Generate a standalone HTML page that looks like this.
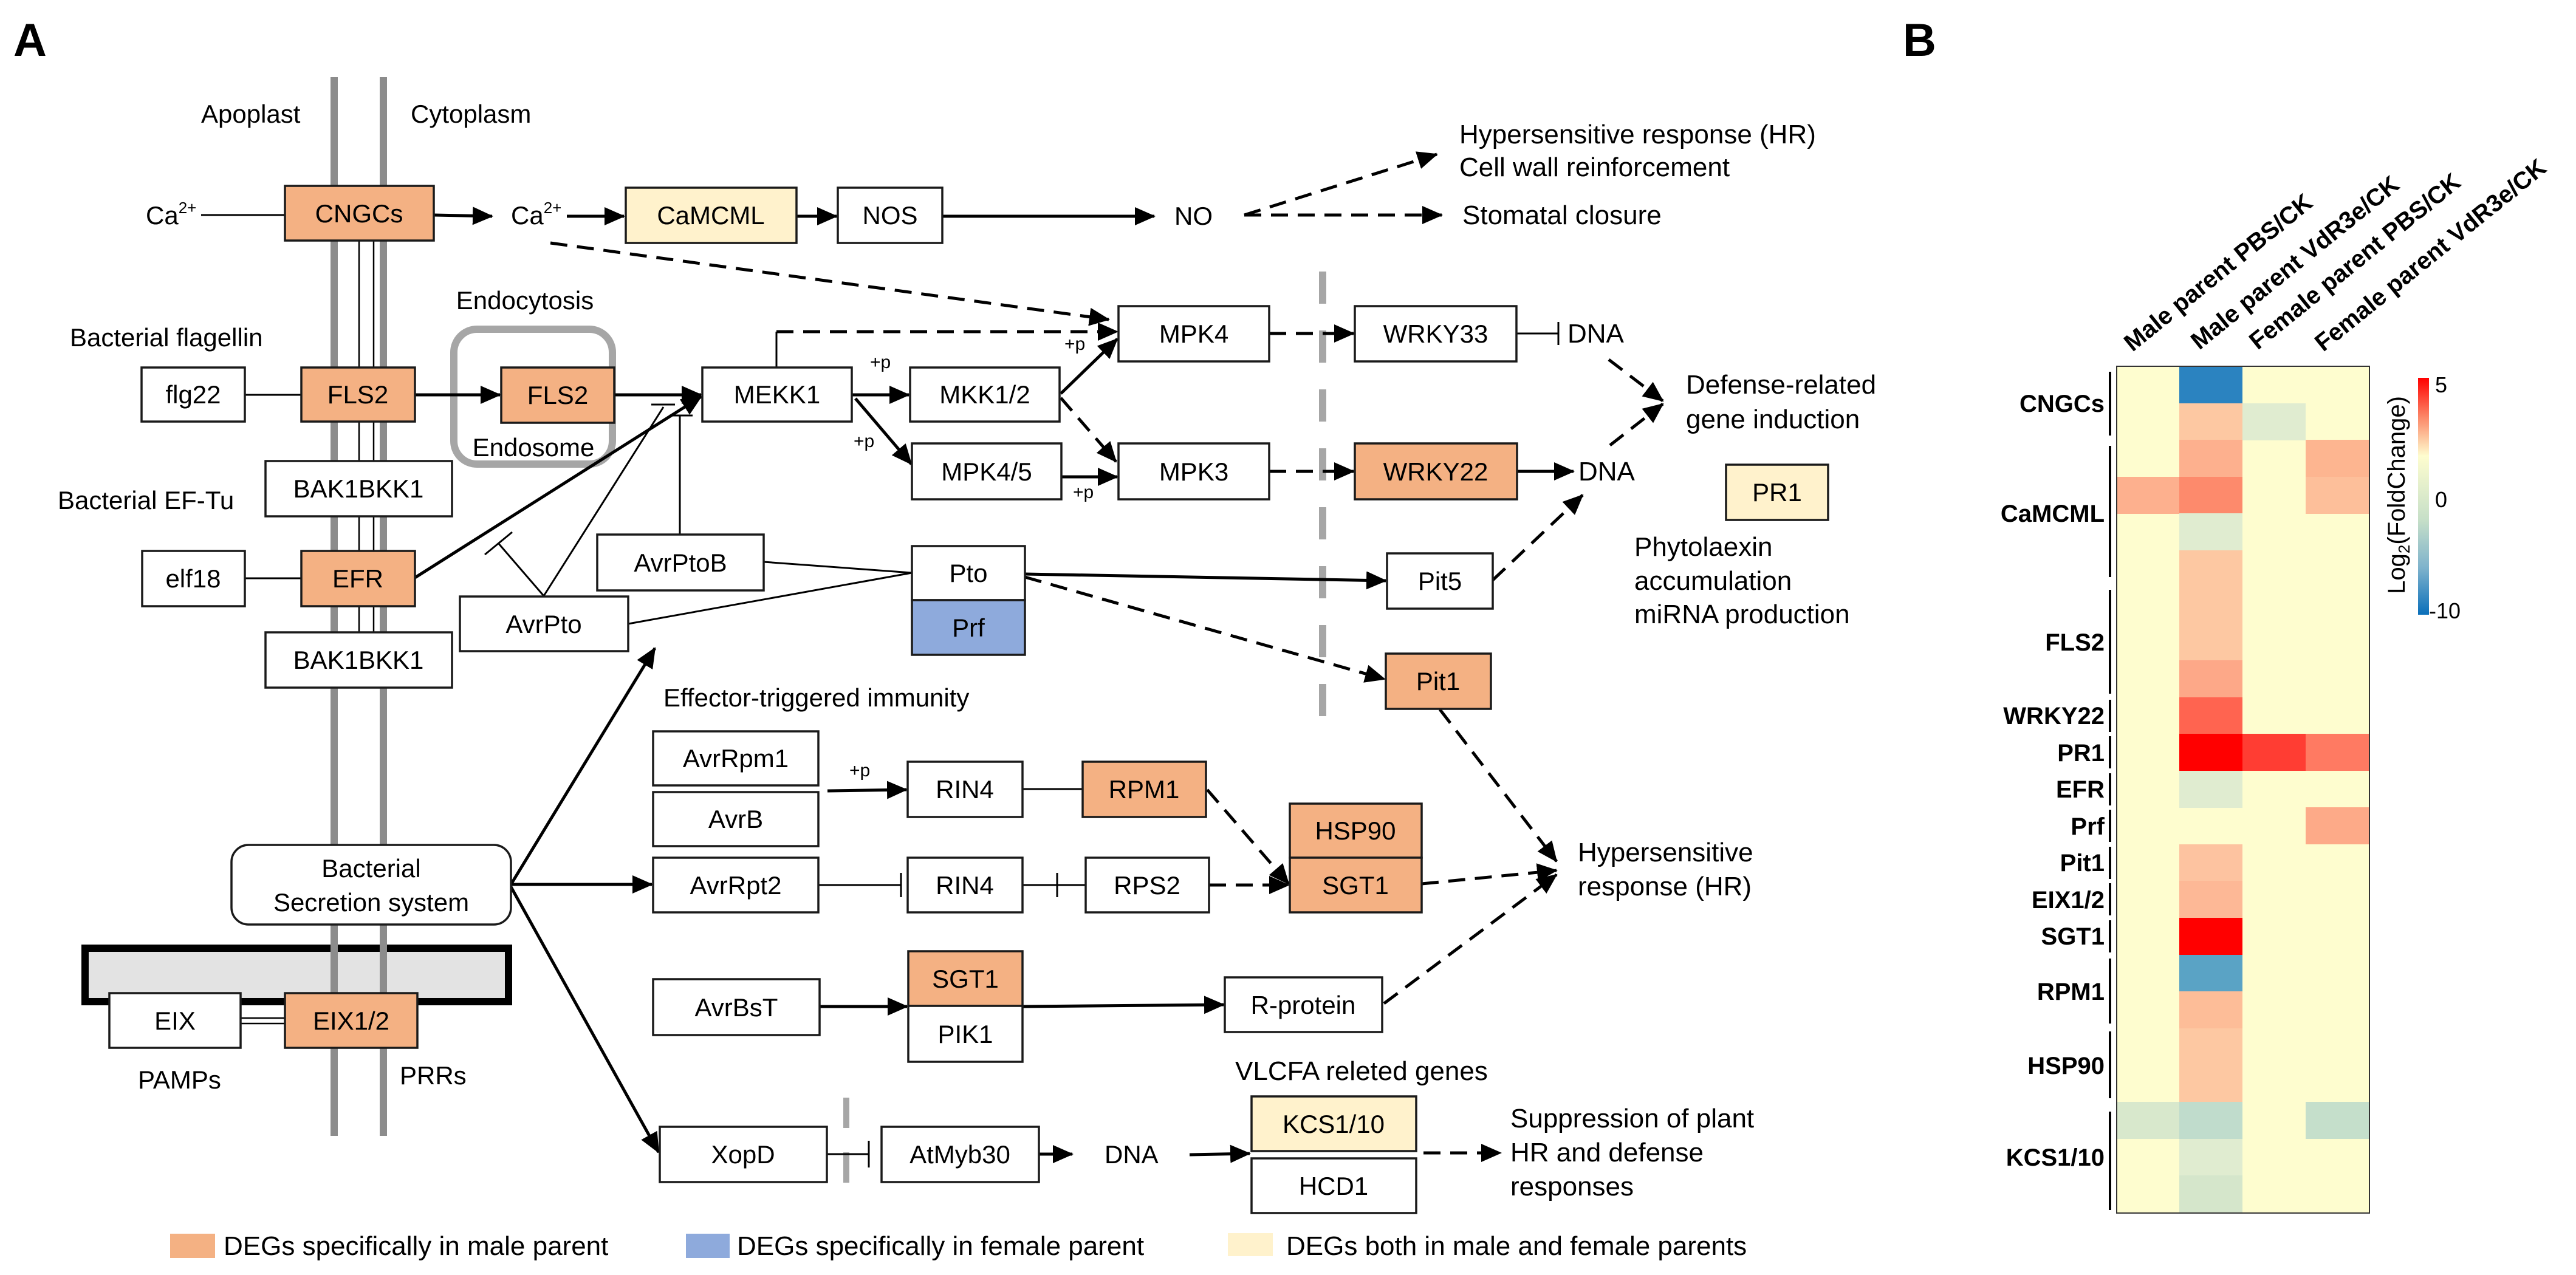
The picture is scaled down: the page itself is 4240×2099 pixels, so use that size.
<!DOCTYPE html>
<html><head><meta charset="utf-8"><style>
html,body{margin:0;padding:0;background:#fff;}
svg{display:block;}
text{font-family:"Liberation Sans",Arial,sans-serif;fill:#000;}
</style></head><body>
<svg width="4240" height="2099" viewBox="0 0 4240 2099" xmlns="http://www.w3.org/2000/svg">
<defs>
<marker id="ah" markerUnits="userSpaceOnUse" markerWidth="34" markerHeight="30" refX="32" refY="15" orient="auto"><path d="M0,0 L34,15 L0,30 z" fill="#000"/></marker>
<linearGradient id="cb" x1="0" y1="0" x2="0" y2="1">
<stop offset="0" stop-color="#ff0000"/><stop offset="0.17" stop-color="#fc8a6a"/><stop offset="0.33" stop-color="#fefdcf"/><stop offset="0.6" stop-color="#c6dfc8"/><stop offset="0.8" stop-color="#7fb3cc"/><stop offset="1" stop-color="#0a6fba"/>
</linearGradient>
</defs>

<text x="22" y="92" font-size="76" font-weight="bold">A</text>
<text x="3132" y="92" font-size="76" font-weight="bold">B</text>

<rect x="140" y="1561" width="697" height="88" fill="#e3e3e3" stroke="#000" stroke-width="12"/>

<line x1="550" y1="127" x2="550" y2="1870" stroke="#8c8c8c" stroke-width="12"/>
<line x1="631" y1="127" x2="631" y2="1870" stroke="#8c8c8c" stroke-width="12"/>
<g stroke="#000" stroke-width="2.5">
<line x1="591" y1="396" x2="591" y2="605"/><line x1="615" y1="396" x2="615" y2="605"/>
<line x1="591" y1="694" x2="591" y2="907"/><line x1="615" y1="694" x2="615" y2="907"/>
<line x1="591" y1="998" x2="591" y2="1041"/><line x1="615" y1="998" x2="615" y2="1041"/>
<line x1="396" y1="1676" x2="469" y2="1676"/><line x1="396" y1="1685" x2="469" y2="1685"/>
</g>

<text x="331" y="202" font-size="42">Apoplast</text>
<text x="676" y="202" font-size="42">Cytoplasm</text>

<rect x="747" y="542" width="261" height="222" rx="38" fill="none" stroke="#a6a6a6" stroke-width="12"/>
<text x="864" y="509" font-size="42" text-anchor="middle">Endocytosis</text>
<text x="878" y="751" font-size="42" text-anchor="middle">Endosome</text>

<line x1="2177" y1="447" x2="2177" y2="1190" stroke="#a6a6a6" stroke-width="12" stroke-dasharray="53 44"/>
<line x1="1393" y1="1807" x2="1393" y2="1962" stroke="#a6a6a6" stroke-width="10" stroke-dasharray="50 40"/>

<g stroke="#000" stroke-width="3" fill="none">
<line x1="331" y1="354" x2="469" y2="354"/>
<line x1="403" y1="650" x2="496" y2="650"/>
<line x1="403" y1="952" x2="496" y2="952"/>
<line x1="1257" y1="925" x2="1501" y2="943"/>
<line x1="1034" y1="1027" x2="1501" y2="943"/>
<line x1="1683" y1="1299" x2="1782" y2="1299"/>
<line x1="895" y1="981" x2="820" y2="894"/><line x1="798" y1="913" x2="843" y2="876"/>
<line x1="895" y1="981" x2="1092" y2="670"/><line x1="1072" y1="666" x2="1111" y2="666"/>
<line x1="1119" y1="880" x2="1119" y2="684"/><line x1="1102" y1="684" x2="1140" y2="684"/>
<line x1="1278" y1="605" x2="1278" y2="546"/>
<line x1="2496" y1="549" x2="2565" y2="549"/><line x1="2565" y1="530" x2="2565" y2="568"/>
<line x1="1347" y1="1457" x2="1483" y2="1457"/><line x1="1483" y1="1437" x2="1483" y2="1477"/>
<line x1="1683" y1="1457" x2="1787" y2="1457"/><line x1="1740" y1="1437" x2="1740" y2="1477"/>
<line x1="1361" y1="1900" x2="1430" y2="1900"/><line x1="1430" y1="1878" x2="1430" y2="1922"/>
</g>

<g stroke="#000" stroke-width="5" fill="none" marker-end="url(#ah)">
<line x1="714" y1="354" x2="810" y2="356"/>
<line x1="933" y1="356" x2="1027" y2="356"/>
<line x1="1311" y1="356" x2="1377" y2="356"/>
<line x1="1551" y1="356" x2="1900" y2="356"/>
<line x1="683" y1="650" x2="823" y2="650"/>
<line x1="1011" y1="650" x2="1154" y2="650"/>
<line x1="683" y1="951" x2="1154" y2="653"/>
<line x1="1402" y1="650" x2="1496" y2="650"/>
<line x1="1408" y1="656" x2="1500" y2="764"/>
<line x1="1746" y1="648" x2="1839" y2="558"/>
<line x1="1747" y1="785" x2="1839" y2="785"/>
<line x1="2497" y1="776" x2="2590" y2="776"/>
<line x1="1687" y1="945" x2="2281" y2="956"/>
<line x1="841" y1="1456" x2="1078" y2="1067"/>
<line x1="841" y1="1456" x2="1073" y2="1456"/>
<line x1="841" y1="1460" x2="1084" y2="1897"/>
<line x1="1362" y1="1302" x2="1492" y2="1300"/>
<line x1="1349" y1="1657" x2="1493" y2="1657"/>
<line x1="1683" y1="1657" x2="2014" y2="1654"/>
<line x1="1710" y1="1900" x2="1765" y2="1900"/>
<line x1="1958" y1="1901" x2="2057" y2="1899"/>
</g>
<g stroke="#000" stroke-width="5" fill="none" stroke-dasharray="28 16" marker-end="url(#ah)">
<line x1="2048" y1="354" x2="2365" y2="254"/>
<line x1="2048" y1="354" x2="2373" y2="354"/>
<line x1="906" y1="400" x2="1825" y2="526"/>
<polyline points="1278,546 1839,546"/>
<line x1="1746" y1="655" x2="1837" y2="760"/>
<line x1="2089" y1="549" x2="2228" y2="549"/>
<line x1="2089" y1="776" x2="2228" y2="776"/>
<line x1="2648" y1="592" x2="2737" y2="660"/>
<line x1="2650" y1="733" x2="2737" y2="665"/>
<line x1="2457" y1="955" x2="2605" y2="815"/>
<line x1="1687" y1="950" x2="2279" y2="1118"/>
<line x1="2370" y1="1168" x2="2562" y2="1418"/>
<line x1="2340" y1="1455" x2="2562" y2="1433"/>
<line x1="2278" y1="1652" x2="2562" y2="1440"/>
<line x1="1987" y1="1300" x2="2121" y2="1455"/>
<line x1="1990" y1="1457" x2="2121" y2="1457"/>
<line x1="2343" y1="1898" x2="2470" y2="1898"/>
</g>

<g stroke="#1a1a1a" stroke-width="3.5">
<rect x="469" y="306" width="245" height="90" fill="#f4b183"/>
<rect x="1030" y="309" width="281" height="91" fill="#fff2cc"/>
<rect x="1379" y="309" width="172" height="91" fill="#fff"/>
<rect x="233" y="605" width="170" height="89" fill="#fff"/>
<rect x="496" y="605" width="187" height="89" fill="#f4b183"/>
<rect x="825" y="605" width="186" height="91" fill="#f4b183"/>
<rect x="1156" y="605" width="246" height="89" fill="#fff"/>
<rect x="1498" y="605" width="246" height="89" fill="#fff"/>
<rect x="1841" y="504" width="248" height="91" fill="#fff"/>
<rect x="1501" y="730" width="246" height="92" fill="#fff"/>
<rect x="1841" y="730" width="248" height="92" fill="#fff"/>
<rect x="2230" y="504" width="266" height="91" fill="#fff"/>
<rect x="2230" y="730" width="267" height="92" fill="#f4b183"/>
<rect x="2841" y="765" width="168" height="91" fill="#fff2cc"/>
<rect x="437" y="759" width="307" height="91" fill="#fff"/>
<rect x="234" y="907" width="169" height="91" fill="#fff"/>
<rect x="496" y="907" width="187" height="91" fill="#f4b183"/>
<rect x="983" y="880" width="274" height="92" fill="#fff"/>
<rect x="1501" y="899" width="186" height="89" fill="#fff"/>
<rect x="1501" y="988" width="186" height="90" fill="#8eaadc"/>
<rect x="757" y="982" width="277" height="90" fill="#fff"/>
<rect x="437" y="1041" width="307" height="91" fill="#fff"/>
<rect x="2283" y="911" width="174" height="91" fill="#fff"/>
<rect x="2281" y="1076" width="173" height="91" fill="#f4b183"/>
<rect x="1075" y="1204" width="272" height="89" fill="#fff"/>
<rect x="1075" y="1304" width="272" height="89" fill="#fff"/>
<rect x="1494" y="1254" width="189" height="91" fill="#fff"/>
<rect x="1782" y="1254" width="203" height="91" fill="#f4b183"/>
<rect x="1075" y="1412" width="272" height="90" fill="#fff"/>
<rect x="1494" y="1412" width="189" height="90" fill="#fff"/>
<rect x="1787" y="1412" width="203" height="90" fill="#fff"/>
<rect x="2123" y="1323" width="217" height="89" fill="#f4b183"/>
<rect x="2123" y="1412" width="217" height="90" fill="#f4b183"/>
<rect x="381" y="1391" width="460" height="131" rx="28" fill="#fff"/>
<rect x="180" y="1635" width="216" height="90" fill="#fff"/>
<rect x="469" y="1635" width="218" height="90" fill="#f4b183"/>
<rect x="1075" y="1612" width="274" height="92" fill="#fff"/>
<rect x="1495" y="1566" width="188" height="90" fill="#f4b183"/>
<rect x="1495" y="1656" width="188" height="92" fill="#fff"/>
<rect x="2016" y="1609" width="259" height="90" fill="#fff"/>
<rect x="1086" y="1855" width="275" height="91" fill="#fff"/>
<rect x="1451" y="1855" width="259" height="91" fill="#fff"/>
<rect x="2060" y="1805" width="271" height="90" fill="#fff2cc"/>
<rect x="2060" y="1907" width="271" height="90" fill="#fff"/>
</g>

<g font-size="42" text-anchor="middle">
<text x="591" y="366">CNGCs</text>
<text x="1170" y="369">CaMCML</text>
<text x="1465" y="369">NOS</text>
<text x="318" y="664">flg22</text>
<text x="589" y="664">FLS2</text>
<text x="918" y="665">FLS2</text>
<text x="1279" y="664">MEKK1</text>
<text x="1621" y="664">MKK1/2</text>
<text x="1965" y="564">MPK4</text>
<text x="1624" y="791">MPK4/5</text>
<text x="1965" y="791">MPK3</text>
<text x="2363" y="564">WRKY33</text>
<text x="2363" y="791">WRKY22</text>
<text x="2925" y="825">PR1</text>
<text x="590" y="819">BAK1BKK1</text>
<text x="318" y="967">elf18</text>
<text x="589" y="967">EFR</text>
<text x="1120" y="941">AvrPtoB</text>
<text x="1594" y="958">Pto</text>
<text x="1594" y="1048">Prf</text>
<text x="895" y="1042">AvrPto</text>
<text x="590" y="1101">BAK1BKK1</text>
<text x="2370" y="971">Pit5</text>
<text x="2367" y="1136">Pit1</text>
<text x="1211" y="1263">AvrRpm1</text>
<text x="1211" y="1363">AvrB</text>
<text x="1588" y="1314">RIN4</text>
<text x="1883" y="1314">RPM1</text>
<text x="1211" y="1472">AvrRpt2</text>
<text x="1588" y="1472">RIN4</text>
<text x="1888" y="1472">RPS2</text>
<text x="2231" y="1382">HSP90</text>
<text x="2231" y="1472">SGT1</text>
<text x="611" y="1444">Bacterial</text>
<text x="611" y="1500">Secretion system</text>
<text x="288" y="1695">EIX</text>
<text x="578" y="1695">EIX1/2</text>
<text x="1212" y="1673">AvrBsT</text>
<text x="1589" y="1626">SGT1</text>
<text x="1589" y="1717">PIK1</text>
<text x="2145" y="1669">R-protein</text>
<text x="1223" y="1915">XopD</text>
<text x="1580" y="1915">AtMyb30</text>
<text x="2195" y="1865">KCS1/10</text>
<text x="2195" y="1967">HCD1</text>
</g>

<g font-size="42">
<text x="240" y="369">Ca<tspan font-size="26" dy="-18">2+</tspan></text>
<text x="841" y="369">Ca<tspan font-size="26" dy="-18">2+</tspan></text>
<text x="1933" y="370">NO</text>
<text x="115" y="570">Bacterial flagellin</text>
<text x="95" y="838">Bacterial EF-Tu</text>
<text x="1092" y="1163">Effector-triggered immunity</text>
<text x="227" y="1792">PAMPs</text>
<text x="658" y="1785">PRRs</text>
<text x="1818" y="1915">DNA</text>
</g>
<g font-size="30">
<text x="1432" y="606">+p</text>
<text x="1405" y="736">+p</text>
<text x="1752" y="576">+p</text>
<text x="1766" y="820">+p</text>
<text x="1398" y="1278">+p</text>
</g>
<g font-size="44">
<text x="2402" y="236">Hypersensitive response (HR)</text>
<text x="2402" y="290">Cell wall reinforcement</text>
<text x="2407" y="369">Stomatal closure</text>
<text x="2580" y="564">DNA</text>
<text x="2598" y="791">DNA</text>
<text x="2775" y="648">Defense-related</text>
<text x="2775" y="705">gene induction</text>
<text x="2690" y="915">Phytolaexin</text>
<text x="2690" y="971">accumulation</text>
<text x="2690" y="1026">miRNA production</text>
<text x="2597" y="1418">Hypersensitive</text>
<text x="2597" y="1474">response (HR)</text>
<text x="2033" y="1778">VLCFA releted genes</text>
<text x="2486" y="1856">Suppression of plant</text>
<text x="2486" y="1912">HR and defense</text>
<text x="2486" y="1968">responses</text>
</g>

<rect x="280" y="2031" width="74" height="40" fill="#f4b183"/>
<rect x="1129" y="2031" width="72" height="40" fill="#8eaadc"/>
<rect x="2021" y="2030" width="74" height="38" fill="#fff2cc"/>
<g font-size="44">
<text x="368" y="2066">DEGs specifically in male parent</text>
<text x="1213" y="2066">DEGs specifically in female parent</text>
<text x="2117" y="2066">DEGs both in male and female parents</text>
</g>

<g>
<rect x="3484" y="603" width="416" height="1394" fill="#fefdcf"/>
<rect x="3587" y="603" width="104" height="61" fill="#2b83c0"/>
<rect x="3587" y="664" width="104" height="61" fill="#fdc8a2"/>
<rect x="3691" y="664" width="104" height="61" fill="#e0ecd0"/>
<rect x="3587" y="724" width="104" height="61" fill="#fdb08e"/>
<rect x="3795" y="724" width="105" height="61" fill="#fdb590"/>
<rect x="3484" y="785" width="103" height="61" fill="#fdb08e"/>
<rect x="3587" y="785" width="104" height="61" fill="#fd8a6c"/>
<rect x="3795" y="785" width="105" height="61" fill="#fdbf9a"/>
<rect x="3587" y="845" width="104" height="61" fill="#e0ecd0"/>
<rect x="3587" y="906" width="104" height="182" fill="#fdc8a2"/>
<rect x="3587" y="1087" width="104" height="61" fill="#fda888"/>
<rect x="3587" y="1148" width="104" height="61" fill="#ff6450"/>
<rect x="3587" y="1208" width="104" height="61" fill="#ff0000"/>
<rect x="3691" y="1208" width="104" height="61" fill="#ff3d33"/>
<rect x="3795" y="1208" width="105" height="61" fill="#ff7a62"/>
<rect x="3587" y="1269" width="104" height="61" fill="#e0ecd0"/>
<rect x="3795" y="1329" width="105" height="61" fill="#fdaa88"/>
<rect x="3587" y="1390" width="104" height="61" fill="#fdc3a0"/>
<rect x="3587" y="1450" width="104" height="61" fill="#fdb896"/>
<rect x="3587" y="1511" width="104" height="61" fill="#ff0000"/>
<rect x="3587" y="1572" width="104" height="61" fill="#5aa3c5"/>
<rect x="3587" y="1632" width="104" height="61" fill="#fdbd98"/>
<rect x="3587" y="1693" width="104" height="122" fill="#fdc8a2"/>
<rect x="3484" y="1814" width="103" height="61" fill="#d8e8cc"/>
<rect x="3587" y="1814" width="104" height="61" fill="#c0dccc"/>
<rect x="3795" y="1814" width="105" height="61" fill="#c5dfcb"/>
<rect x="3587" y="1875" width="104" height="61" fill="#e0ecd0"/>
<rect x="3587" y="1935" width="104" height="62" fill="#d5e6cb"/>
<rect x="3484" y="603" width="416" height="1394" fill="none" stroke="#333" stroke-width="2"/>
</g>
<g stroke="#000" stroke-width="4">
<line x1="3473" y1="612" x2="3473" y2="717"/>
<line x1="3473" y1="734" x2="3473" y2="950"/>
<line x1="3473" y1="971" x2="3473" y2="1142"/>
<line x1="3473" y1="1152" x2="3473" y2="1205"/>
<line x1="3473" y1="1212" x2="3473" y2="1265"/>
<line x1="3473" y1="1273" x2="3473" y2="1326"/>
<line x1="3473" y1="1333" x2="3473" y2="1386"/>
<line x1="3473" y1="1394" x2="3473" y2="1447"/>
<line x1="3473" y1="1454" x2="3473" y2="1507"/>
<line x1="3473" y1="1515" x2="3473" y2="1568"/>
<line x1="3473" y1="1578" x2="3473" y2="1685"/>
<line x1="3473" y1="1698" x2="3473" y2="1808"/>
<line x1="3473" y1="1830" x2="3473" y2="1992"/>
</g>
<g font-size="40" font-weight="bold" text-anchor="end">
<text x="3464" y="678">CNGCs</text>
<text x="3464" y="859">CaMCML</text>
<text x="3464" y="1071">FLS2</text>
<text x="3464" y="1192">WRKY22</text>
<text x="3464" y="1253">PR1</text>
<text x="3464" y="1313">EFR</text>
<text x="3464" y="1374">Prf</text>
<text x="3464" y="1434">Pit1</text>
<text x="3464" y="1495">EIX1/2</text>
<text x="3464" y="1555">SGT1</text>
<text x="3464" y="1646">RPM1</text>
<text x="3464" y="1768">HSP90</text>
<text x="3464" y="1919">KCS1/10</text>
</g>
<g font-size="40" font-weight="bold">
<text transform="translate(3510,580) rotate(-39)">Male parent PBS/CK</text>
<text transform="translate(3620,577) rotate(-39)">Male parent VdR3e/CK</text>
<text transform="translate(3716,577) rotate(-39)">Female parent PBS/CK</text>
<text transform="translate(3824,580) rotate(-39)">Female parent VdR3e/CK</text>
</g>
<rect x="3980" y="622" width="18" height="390" fill="url(#cb)"/>
<g font-size="36">
<text x="4008" y="646">5</text>
<text x="4008" y="835">0</text>
<text x="3998" y="1018">-10</text>
</g>
<text transform="translate(3958,815) rotate(-90)" font-size="40" text-anchor="middle">Log<tspan font-size="26" dy="8">2</tspan><tspan dy="-8">(FoldChange)</tspan></text>
</svg>
</body></html>
